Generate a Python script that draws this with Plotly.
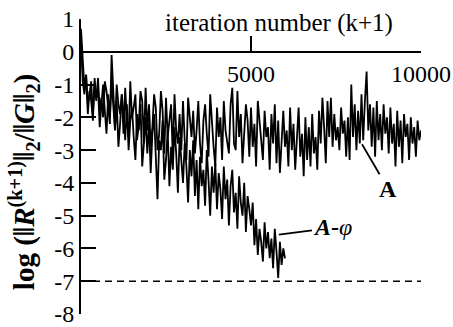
import plotly.graph_objects as go

# iteration numbers (sampled every 50 iterations)
iter_A = list(range(0, 10001, 50))
iter_Aphi = list(range(0, 6001, 50))

# log residual ratio, curve "A"
res_A = [
    0.7, -0.2, -1.1, -0.7, -1.6, -1.3, -0.9, -1.9, -1.0, -1.5,
    -0.8, -1.8, -1.4, -2.0, -0.9, -1.2, -1.7, -2.2, -0.1, -1.5,
    -2.3, -1.0, -1.6, -1.9, -1.3, -2.5, -1.1, -2.1, -2.6, -0.9,
    -2.0, -1.7, -1.3, -2.7, -2.2, -1.2, -1.5, -2.8, -1.1, -2.4,
    -1.6, -2.9, -2.3, -1.3, -1.7, -3.0, -2.5, -1.2, -1.8, -3.1,
    -1.4, -2.6, -2.0, -1.6, -3.2, -1.3, -2.4, -2.8, -1.9, -3.0,
    -1.5, -2.7, -3.3, -1.4, -2.0, -2.6, -1.8, -3.1, -2.4, -1.5,
    -2.8, -3.4, -2.1, -1.6, -2.5, -3.2, -1.3, -2.2, -2.9, -3.5,
    -1.7, -2.6, -2.0, -3.3, -1.5, -2.4, -2.7, -3.1, -1.6, -1.1,
    -2.8, -3.0, -1.2, -2.6, -1.9, -3.4, -2.5, -1.6, -2.1, -3.2,
    -1.7, -2.9, -2.2, -3.5, -1.5, -2.0, -2.7, -3.3, -1.8, -2.6,
    -2.3, -3.6, -1.9, -2.8, -1.6, -3.4, -2.1, -3.7, -2.5, -1.8,
    -2.9, -2.4, -3.5, -1.7, -3.0, -2.2, -3.6, -2.7, -1.7, -3.2,
    -2.5, -3.8, -2.0, -3.3, -2.3, -3.5, -1.9, -3.1, -2.6, -3.6,
    -1.8, -2.8, -1.4, -2.3, -3.4, -1.5, -2.6, -1.4, -2.9, -1.9,
    -2.7, -2.3, -3.0, -1.7, -2.5, -2.1, -3.2, -2.0, -3.3, -1.0,
    -2.6, -1.6, -3.0, -1.8, -2.8, -1.3, -2.7, -1.5, -0.6, -2.4,
    -1.6, -2.9, -1.7, -3.2, -1.5, -2.7, -1.9, -3.0, -1.6, -2.5,
    -2.0, -3.1, -1.7, -2.8, -2.2, -3.5, -1.8, -2.9, -2.1, -3.4,
    -1.9, -2.6, -2.2, -3.3, -2.0, -2.8, -2.3, -3.2, -2.1, -2.7,
    -2.4,
]

# log residual ratio, curve "A-phi"
res_Aphi = [
    0.3, -0.9, -1.3, -0.7, -1.9, -1.2, -1.5, -2.1, -0.8, -1.4,
    -1.1, -2.3, -1.6, -1.0, -1.8, -2.5, -1.3, -2.0, -0.9, -1.7,
    -2.4, -1.5, -2.9, -2.2, -1.3, -1.9, -2.7, -1.6, -3.0, -2.1,
    -1.7, -2.6, -3.3, -1.9, -2.4, -1.6, -3.5, -2.8, -2.0, -3.1,
    -2.2, -3.7, -2.5, -1.9, -3.2, -4.5, -2.7, -3.0, -2.1, -3.9,
    -3.3, -2.4, -4.1, -2.9, -3.6, -2.3, -3.1, -4.3, -2.6, -3.4,
    -4.0, -2.8, -3.5, -4.6, -3.0, -3.8, -2.7, -4.4, -3.3, -4.8,
    -3.2, -4.1, -3.6, -4.7, -3.0, -3.9, -5.0, -3.5, -4.3, -3.4,
    -4.8, -3.7, -4.2, -5.1, -3.5, -4.5, -3.9, -5.3, -4.1, -3.6,
    -4.9, -4.3, -5.4, -3.8, -4.6, -5.0, -4.0, -5.5, -4.4, -4.8,
    -5.3, -4.6, -5.9, -5.1, -6.2, -5.4, -5.8, -6.4, -5.2, -6.0,
    -5.5, -6.3, -5.7, -6.6, -5.4, -6.1, -6.9, -5.8, -6.5, -6.0,
    -6.3,
]

# tolerance line
tol_x = [0, 10000]
tol_y = [-7, -7]

x_tickvals = [5000, 10000]
x_ticktext = ["5000", "10000"]
y_tickvals = [1, 0, -1, -2, -3, -4, -5, -6, -7, -8]
y_ticktext = ["1", "0", "-1", "-2", "-3", "-4", "-5", "-6", "-7", "-8"]

FONT = "Liberation Serif"

fig = go.Figure()
fig.add_trace(go.Scatter(x=iter_A, y=res_A, mode="lines",
                         line=dict(color="black", width=1.8), showlegend=False))
fig.add_trace(go.Scatter(x=iter_Aphi, y=res_Aphi, mode="lines",
                         line=dict(color="black", width=1.8), showlegend=False))
fig.add_trace(go.Scatter(x=tol_x, y=tol_y, mode="lines",
                         line=dict(color="black", width=1.5, dash="7px,5px"),
                         showlegend=False))

fig.update_layout(
    width=453, height=327,
    margin=dict(l=81, r=32, t=19, b=13, autoexpand=False),
    paper_bgcolor="white", plot_bgcolor="white",
    font=dict(family=FONT, color="black", size=24),
    xaxis=dict(range=[0, 10000], anchor="free", position=8 / 9, side="bottom",
               showline=True, linecolor="black", linewidth=2,
               ticks="inside", ticklen=15, tickwidth=1.5, tickcolor="black",
               tickvals=x_tickvals, ticktext=x_ticktext,
               showgrid=False, zeroline=False, ticklabelstandoff=0,
               ticklabeloverflow="allow", automargin=False),
    yaxis=dict(range=[-8, 1], showline=True, linecolor="black", linewidth=2,
               ticks="inside", ticklen=15, tickwidth=1.5, tickcolor="black",
               tickvals=y_tickvals, ticktext=y_ticktext,
               showgrid=False, zeroline=False, ticklabeloverflow="allow",
               automargin=False),
    annotations=[
        dict(text="iteration number (k+1)", xref="paper", yref="paper",
             x=0.582, y=0.987, showarrow=False, xanchor="center", yanchor="middle",
             font=dict(family=FONT, size=25)),
        dict(text="<b>log (‖<i>R</i><sup>(k+1)</sup>‖<sub>2</sub>/‖<i>G</i>‖<sub>2</sub>)</b>",
             xref="paper", yref="paper", x=0, xshift=-57, y=0.447,
             textangle=-90, showarrow=False, xanchor="center", yanchor="middle",
             font=dict(family=FONT, size=29)),
        dict(text="<b>A</b>", x=8265, y=-2.82, ax=9030, ay=-4.18,
             xref="x", yref="y", axref="x", ayref="y",
             showarrow=True, arrowhead=0, arrowwidth=1.8, arrowcolor="black",
             font=dict(family=FONT, size=24)),
        dict(text="<b><i>A</i></b><b>-</b><i>φ</i>", x=5820, y=-5.58, ax=7410, ay=-5.36,
             xref="x", yref="y", axref="x", ayref="y",
             showarrow=True, arrowhead=0, arrowwidth=1.8, arrowcolor="black",
             font=dict(family=FONT, size=24)),
    ],
)

fig.write_html(
    "out.html",
    config={"displayModeBar": False},
    post_script="document.body.style.margin='0';document.body.style.padding='0';document.body.style.overflow='hidden';",
)
